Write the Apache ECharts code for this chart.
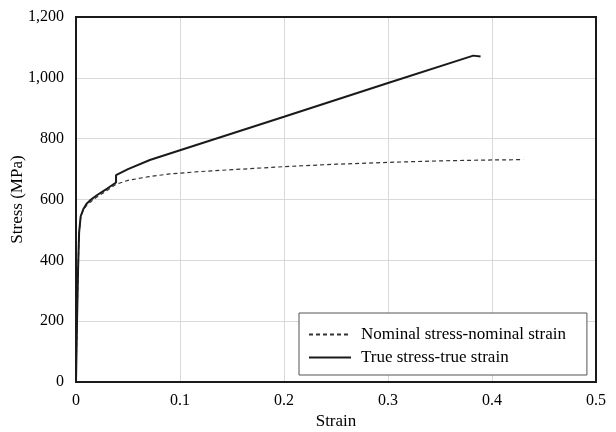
<!DOCTYPE html>
<html><head><meta charset="utf-8">
<script src="https://cdn.jsdelivr.net/npm/echarts@6/dist/echarts.min.js"></script>
<style>html,body{margin:0;padding:0;background:#fff}#c{width:616px;height:432px}</style>
</head><body><div id="c"></div>
<script>
const nominalStrain = [0, 0.001, 0.002, 0.0025, 0.003, 0.0045, 0.007, 0.01, 0.014, 0.02, 0.03, 0.0385, 0.05, 0.07, 0.09, 0.12, 0.15, 0.2, 0.25, 0.3, 0.35, 0.4, 0.43];
const nominalStress = [0, 200, 370, 430, 490, 540, 565, 580, 592, 608, 630, 650, 663, 675, 684, 692, 698, 708, 716, 722, 727, 730, 731];
const trueStrain = [0, 0.001, 0.002, 0.0025, 0.003, 0.0045, 0.007, 0.01, 0.0135, 0.02, 0.03, 0.0385, 0.0385, 0.05, 0.071, 0.1, 0.2, 0.3, 0.382, 0.389];
const trueStress = [0, 200, 372, 432, 492, 545, 568, 585, 597, 614, 636, 656, 680, 700, 730, 762, 872, 983, 1073, 1070];
const xTicks = [0, 0.1, 0.2, 0.3, 0.4, 0.5];
const yTicks = [0, 200, 400, 600, 800, 1000, 1200];
const seriesNames = ['Nominal stress-nominal strain', 'True stress-true strain'];

const pair = (xs, ys) => xs.map((x, i) => [x, ys[i]]);
const font = 'Liberation Serif, Times New Roman, serif';
const chart = echarts.init(document.getElementById('c'));
chart.setOption({
  animation: false,
  backgroundColor: '#fff',
  textStyle: { fontFamily: font },
  grid: { left: 76, right: 20, top: 17, bottom: 50, outerBoundsMode: 'none', containLabel: false, show: true, borderColor: '#1a1a1a', borderWidth: 2, backgroundColor: 'transparent', z: 10 },
  xAxis: {
    type: 'value', min: xTicks[0], max: xTicks[xTicks.length - 1], interval: 0.1,
    name: 'Strain', nameLocation: 'middle', nameGap: 31, nameMoveOverlap: false,
    nameTextStyle: { fontFamily: font, fontSize: 17, color: '#000' },
    axisLine: { show: true, lineStyle: { color: '#1a1a1a', width: 2 } }, axisTick: { show: false },
    axisLabel: { fontFamily: font, fontSize: 16, color: '#000', margin: 11, formatter: v => String(+v.toFixed(1)) },
    splitLine: { show: true, showMinLine: false, showMaxLine: false, lineStyle: { color: '#d9d9d9', width: 1 } }
  },
  yAxis: {
    type: 'value', min: yTicks[0], max: yTicks[yTicks.length - 1], interval: 200,
    name: 'Stress (MPa)', nameLocation: 'middle', nameGap: 50, nameRotate: 90, nameMoveOverlap: false,
    nameTextStyle: { fontFamily: font, fontSize: 17, color: '#000' },
    axisLine: { show: true, lineStyle: { color: '#1a1a1a', width: 2 } }, axisTick: { show: false },
    axisLabel: { fontFamily: font, fontSize: 16, color: '#000', margin: 12, formatter: v => v.toLocaleString('en-US') },
    splitLine: { show: true, showMinLine: false, showMaxLine: false, lineStyle: { color: '#d9d9d9', width: 1 } }
  },
  legend: {
    left: 299, top: 313,
    orient: 'vertical',
    backgroundColor: '#fff', borderColor: '#555', borderWidth: 1,
    padding: [13, 21, 9, 9], itemGap: 6, itemWidth: 42, itemHeight: 15,
    itemStyle: { opacity: 0, borderWidth: 0 },
    textStyle: { fontFamily: font, fontSize: 17, color: '#000', padding: [0, 0, 0, 5] },
    data: seriesNames
  },
  series: [
    { name: seriesNames[0], type: 'line', data: pair(nominalStrain, nominalStress), symbol: 'none', smooth: false,
      lineStyle: { color: '#333', width: 1.2, type: [4, 3] }, itemStyle: { color: '#333' }, z: 3 },
    { name: seriesNames[1], type: 'line', data: pair(trueStrain, trueStress), symbol: 'none', smooth: false,
      lineStyle: { color: '#1a1a1a', width: 2 }, itemStyle: { color: '#1a1a1a' }, z: 4 }
  ]
});
</script></body></html>
